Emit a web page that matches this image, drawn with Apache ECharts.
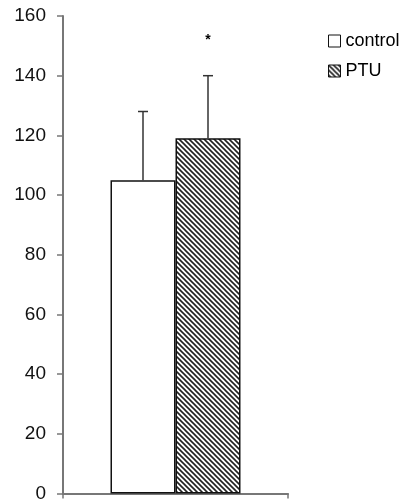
<!DOCTYPE html>
<html>
<head>
<meta charset="utf-8">
<script src="https://cdn.jsdelivr.net/npm/echarts@6/dist/echarts.min.js"></script>
<style>
html,body{margin:0;padding:0;background:#fff;}
#main{width:412px;height:503px;}
</style>
</head>
<body>
<div id="main"></div>
<script>
// ---- data ----
var categories = [''];
var seriesNames = ['control', 'PTU'];
var means = [105, 119];
var errUpper = [128, 140];
var sigMarks = ['', '*'];
var yTicks = { min: 0, max: 160, interval: 20 };

// hatch pattern
function makeHatch() {
  var c = document.createElement('canvas');
  var s = 5;
  c.width = s; c.height = s;
  var g = c.getContext('2d');
  g.fillStyle = '#fff';
  g.fillRect(0, 0, s, s);
  g.strokeStyle = '#222';
  g.lineWidth = 1.6;
  g.beginPath();
  g.moveTo(-1, -1); g.lineTo(s + 1, s + 1);
  g.moveTo(-1, s - 1); g.lineTo(1, s + 1);
  g.moveTo(s - 1, -1); g.lineTo(s + 1, 1);
  g.stroke();
  return c;
}
var hatch = { image: makeHatch(), repeat: 'repeat' };

var BAR_W = 65;
var chart = echarts.init(document.getElementById('main'));
var fillStyles = ['#fff', hatch];

var series = seriesNames.map(function (name, i) {
  return {
    name: name,
    type: 'bar',
    data: [means[i]],
    barWidth: BAR_W,
    barGap: '0%',
    itemStyle: { color: fillStyles[i], borderColor: '#111', borderWidth: 1.5 },
    z: 2
  };
});

series.push({
  type: 'custom',
  name: 'err',
  data: seriesNames.map(function (n, i) { return [0, means[i], errUpper[i], i]; }),
  z: 3,
  renderItem: function (params, api) {
    var i = api.value(3);
    var base = api.coord([0, api.value(1)]);
    var top = api.coord([0, api.value(2)]);
    var x = base[0] + (i === 0 ? -BAR_W / 2 : BAR_W / 2);
    var cap = 5;
    var children = [
      { type: 'line', shape: { x1: x, y1: base[1], x2: x, y2: top[1] }, style: { stroke: '#333', lineWidth: 1.5 } },
      { type: 'line', shape: { x1: x - cap, y1: top[1], x2: x + cap, y2: top[1] }, style: { stroke: '#333', lineWidth: 1.5 } }
    ];
    if (sigMarks[i]) {
      children.push({ type: 'text', style: { text: sigMarks[i], x: x, y: top[1] - 36, textAlign: 'center', textVerticalAlign: 'middle', fontSize: 14, fontWeight: 'bold', fontFamily: 'Liberation Sans', fill: '#000' } });
    }
    return { type: 'group', children: children };
  }
});

chart.setOption({
  animation: false,
  backgroundColor: '#fff',
  grid: { left: 63, right: 124, top: 16, bottom: 6, containLabel: false },
  legend: {
    data: seriesNames,
    orient: 'vertical',
    left: 323,
    top: 27,
    itemWidth: 12,
    itemHeight: 12,
    itemGap: 12,
    icon: 'rect',
    itemStyle: { borderColor: '#111', borderWidth: 1 },
    textStyle: { fontFamily: 'Liberation Sans', fontSize: 18, color: '#000', padding: [0, 0, 0, 0] }
  },
  xAxis: {
    type: 'category',
    data: categories,
    axisLine: { lineStyle: { color: '#777', width: 2 } },
    axisTick: { show: true, length: 5, lineStyle: { color: '#777', width: 1.5 } },
    axisLabel: { show: false }
  },
  yAxis: {
    type: 'value',
    min: yTicks.min, max: yTicks.max, interval: yTicks.interval,
    splitLine: { show: false },
    axisLine: { show: true, lineStyle: { color: '#777', width: 2 } },
    axisTick: { show: true, length: 6, lineStyle: { color: '#777', width: 1.5 } },
    axisLabel: { fontFamily: 'Liberation Sans', fontSize: 19, color: '#111', margin: 17 }
  },
  series: series
});
</script>
</body>
</html>
